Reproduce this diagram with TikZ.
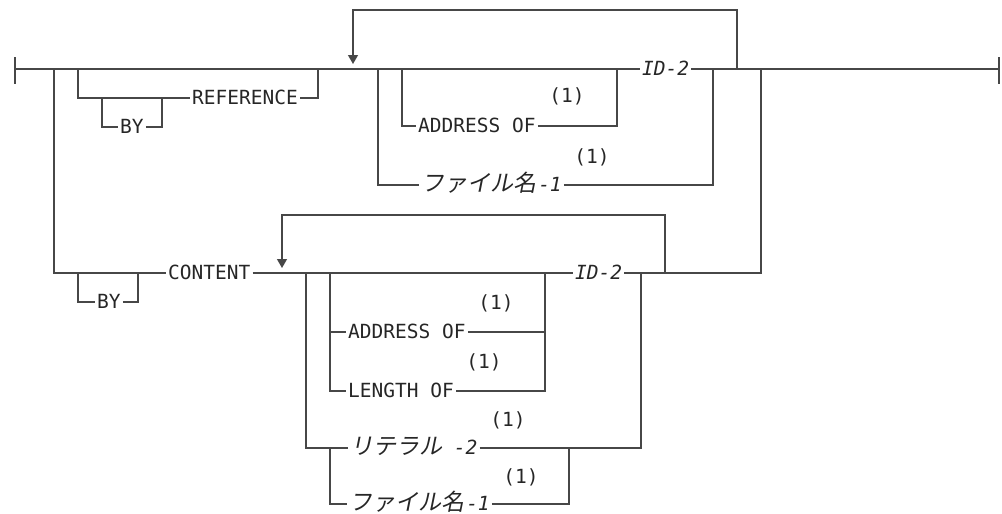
\documentclass[tikz,border=0pt]{standalone}
\usepackage{fontspec}
\setmonofont{DejaVu Sans Mono}
\newfontfamily\jpfont{Noto Sans CJK JP}[Scale=1.18,FakeSlant=0.2]
\usetikzlibrary{arrows.meta,positioning,calc}

\begin{document}
\begin{tikzpicture}[
    x=1pt, y=-1pt,
    every node/.style={font=\fontsize{19.5}{22}\ttfamily, text=black!85},
    kw/.style={anchor=west, inner xsep=2pt, inner ysep=0pt, text height=13.5pt, text depth=0pt},
    note/.style={inner sep=0pt},
    rail/.style={line width=1.3pt, draw=black!72},
    loopback/.style={rail, -{Triangle[width=10pt,length=9pt]}, shorten >=5pt}
]
\useasboundingbox (0,0) rectangle (1002,514);

% ends of the main line
\coordinate (start) at (15,69);
\coordinate (stop) at (999,69);

% by reference
\node[kw] (ref) at (190,98) {REFERENCE};
\node[kw] (byref) at (118,127) {BY};
\node[kw] (idref) at (640,69) {\textit{ID-2}};
\node[kw] (addrref) at (416,126) {ADDRESS OF};
\node[kw] (fileref) at (419,185) {{\jpfont ファイル名}\kern2pt\textit{-1}};
\node[note] (noteA) at (567,96) {(1)};
\node[note] (noteB) at (592,157) {(1)};

% by content
\node[kw] (bycont) at (95,302) {BY};
\node[kw] (cont) at (166,273) {CONTENT};
\node[kw] (idcont) at (573,273) {\textit{ID-2}};
\node[kw] (addrcont) at (346,332) {ADDRESS OF};
\node[kw] (len) at (346,391) {LENGTH OF};
\node[kw] (lit) at (348,448) {{\jpfont リテラル} \textit{-2}};
\node[kw] (filecont) at (347,504) {{\jpfont ファイル名}\kern2pt\textit{-1}};
\node[note] (noteC) at (496,303) {(1)};
\node[note] (noteD) at (484,362) {(1)};
\node[note] (noteE) at (508,420) {(1)};
\node[note] (noteF) at (521,477) {(1)};

% main line
\draw[rail] (15,57) -- (15,84);
\draw[rail] (999,57) -- (999,84);
\draw[rail] (start) -- (idref.west);
\draw[rail] (idref.east) -- (stop);

% reference part
\draw[rail] (78,69) |- (ref.west);
\draw[rail] (ref.east) -| (318,69);
\draw[rail] (102,98) |- (byref.west);
\draw[rail] (byref.east) -| (162,98);
\draw[loopback] (737,69) |- (353,10) -- (353,69);
\draw[rail] (402,69) |- (addrref.west);
\draw[rail] (addrref.east) -| (617,69);
\draw[rail] (378,69) |- (fileref.west);
\draw[rail] (fileref.east) -| (713,69);

% content part
\draw[rail] (54,69) |- (cont.west);
\draw[rail] (78,273) |- (bycont.west);
\draw[rail] (bycont.east) -| (138,273);
\draw[rail] (cont.east) -- (idcont.west);
\draw[rail] (idcont.east) -| (761,69);
\draw[loopback] (665,273) |- (282,215) -- (282,273);
\draw[rail] (306,273) |- (lit.west);
\draw[rail] (lit.east) -| (641,273);
\draw[rail] (330,273) |- (len.west);
\draw[rail] (330,332) -- (addrcont.west);
\draw[rail] (addrcont.east) -| (545,273);
\draw[rail] (len.east) -| (545,332);
\draw[rail] (330,448) |- (filecont.west);
\draw[rail] (filecont.east) -| (569,448);
\end{tikzpicture}
\end{document}
